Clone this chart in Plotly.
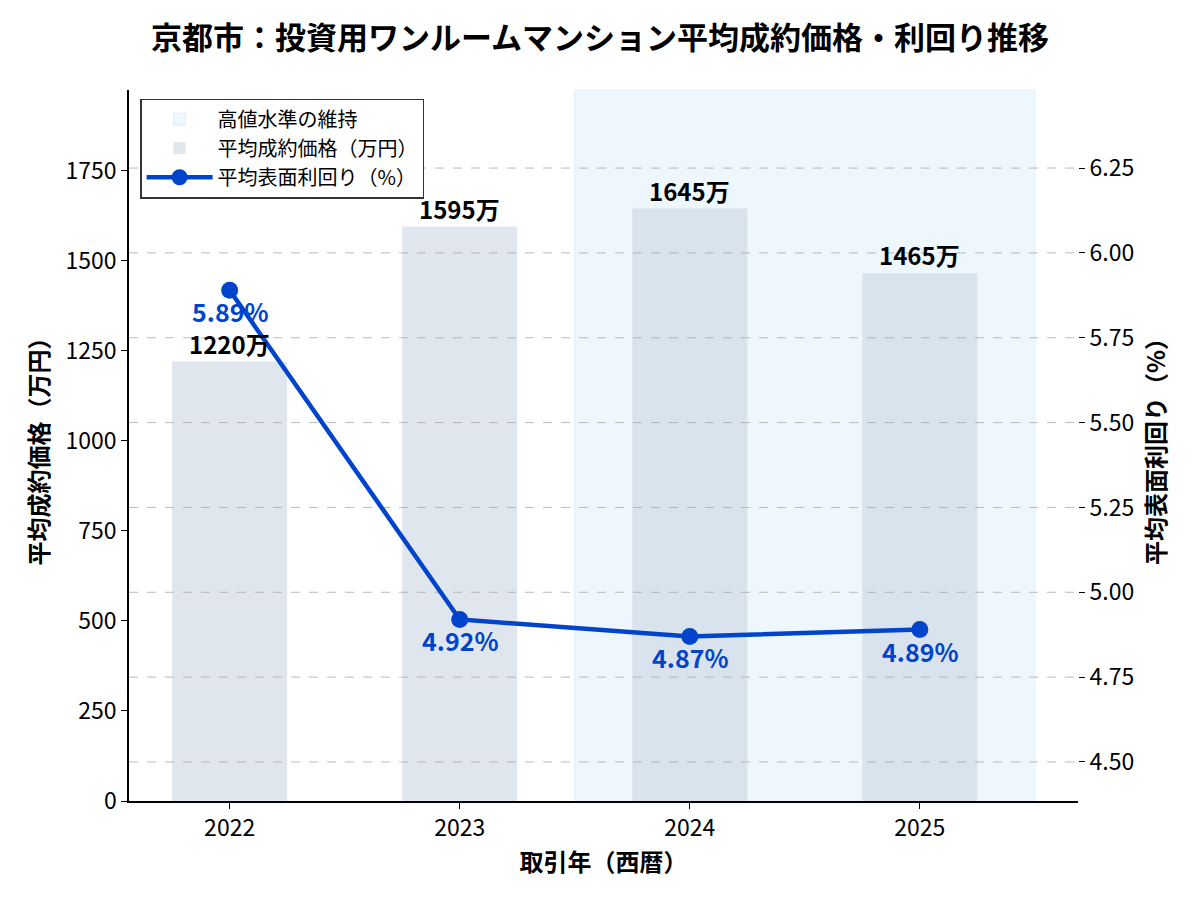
import plotly.graph_objects as go

years = [2022, 2023, 2024, 2025]
price = [1220, 1595, 1645, 1465]
yield_pct = [5.89, 4.92, 4.87, 4.89]
price_labels = ["1220万", "1595万", "1645万", "1465万"]
yield_labels = ["5.89%", "4.92%", "4.87%", "4.89%"]
y2_ticks = [4.50, 4.75, 5.00, 5.25, 5.50, 5.75, 6.00, 6.25]
y1_ticks = [0, 250, 500, 750, 1000, 1250, 1500, 1750]
highlight_span = [2023.5, 2025.5]

FONT = "Noto Sans CJK JP"
xr = [2021.5625, 2025.6875]
y1r = [0, 1974]
y2r = [4.385, 6.48]

fig = go.Figure()

# shaded span
fig.add_shape(type="rect", xref="x", yref="paper", x0=highlight_span[0], x1=highlight_span[1],
              y0=0, y1=1, fillcolor="rgba(227,242,253,0.6)",
              line=dict(color="rgba(224,239,251,1)", width=1), layer="below",
              showlegend=True, name="高値水準の維持", legendrank=1)

fig.add_trace(go.Bar(x=years, y=price, width=0.5, name="平均成約価格（万円）",
                     marker=dict(color="rgba(203,213,225,0.6)", line=dict(width=0)),
                     legendrank=2, hoverinfo="skip"))

# grid lines from right axis ticks (drawn above bars)
gx, gy = [], []
for t in y2_ticks:
    gx += [xr[0], xr[1], None]
    gy += [t, t, None]
fig.add_trace(go.Scatter(x=gx, y=gy, yaxis="y2", mode="lines", showlegend=False,
                         line=dict(color="rgba(170,170,170,0.8)", width=1, dash="dash"),
                         hoverinfo="skip"))

fig.add_trace(go.Scatter(x=years, y=yield_pct, yaxis="y2", mode="lines+markers",
                         name="平均表面利回り（%）",
                         line=dict(color="#0044cc", width=4.5),
                         marker=dict(size=17, color="#0044cc"), legendrank=3))

for x, y, t in zip(years, price, price_labels):
    fig.add_annotation(x=x, y=y, xref="x", yref="y", text=f"<b>{t}</b>", showarrow=False,
                       yanchor="bottom", yshift=-1, font=dict(family=FONT, size=24, color="black"))
for x, y, t in zip(years, yield_pct, yield_labels):
    fig.add_annotation(x=x, y=y, xref="x", yref="y2", text=f"<b>{t}</b>", showarrow=False,
                       yanchor="middle", yshift=-21, font=dict(family=FONT, size=25, color="#0044cc"))

fig.update_layout(
    width=1200, height=900,
    margin=dict(l=129, r=122, t=90, b=99),
    paper_bgcolor="white", plot_bgcolor="white",
    font=dict(family=FONT, size=23, color="black"),
    title=dict(text="<b>京都市：投資用ワンルームマンション平均成約価格・利回り推移</b>",
               x=0.5, xanchor="center", y=0.958, yanchor="middle",
               font=dict(family=FONT, size=31, color="black")),
    barmode="overlay",
    showlegend=True,
    legend=dict(x=0.012, y=0.988, xanchor="left", yanchor="top",
                bgcolor="white", bordercolor="#333333", borderwidth=1.2,
                font=dict(family=FONT, size=20), tracegroupgap=2,
                itemwidth=66),
    xaxis=dict(range=xr, tickvals=years, ticktext=[str(y) for y in years],
               showline=True, linecolor="black", linewidth=1.5, ticks="outside",
               ticklen=6, tickcolor="black", showgrid=False, zeroline=False,
               tickfont=dict(size=23),
               title=dict(text="<b>取引年（西暦）</b>", font=dict(size=24), standoff=8)),
    yaxis=dict(range=y1r, tickvals=y1_ticks, showline=True, linecolor="black", linewidth=1.5,
               ticks="outside", ticklen=6, tickcolor="black", showgrid=False, zeroline=False,
               tickfont=dict(size=23),
               title=dict(text="<b>平均成約価格（万円）</b>", font=dict(size=24), standoff=10)),
    yaxis2=dict(range=y2r, tickvals=y2_ticks, ticktext=[f"{t:.2f}" for t in y2_ticks],
                overlaying="y", side="right", showline=False, ticks="outside", ticklen=6,
                tickcolor="black", showgrid=False, zeroline=False, tickfont=dict(size=23),
                title=dict(text="<b>平均表面利回り（%）</b>", font=dict(size=24), standoff=14)),
)

fig.write_html("out.html")
